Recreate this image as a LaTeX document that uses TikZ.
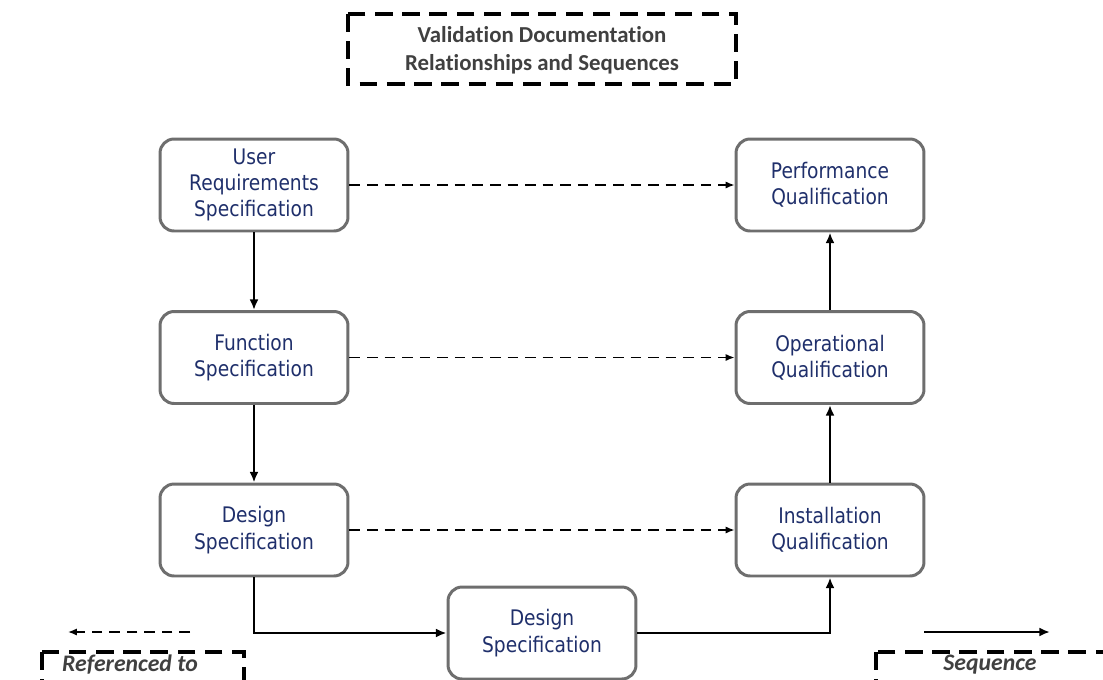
\documentclass[tikz,border=0pt]{standalone}
\usepackage{fontspec}
\setmainfont[Ligatures={NoCommon}]{Carlito}
\newfontfamily\boxfont[FakeStretch=0.87]{DejaVu Sans}
\usetikzlibrary{arrows.meta}
\definecolor{boxtext}{HTML}{1F2F6B}
\definecolor{boxline}{HTML}{6E6E6E}
\definecolor{titletext}{HTML}{404040}
\begin{document}
\begin{tikzpicture}[x=0.02cm,y=-0.02cm,
  docbox/.style={draw=boxline, line width=1.7pt, rounded corners=8pt, fill=white,
    minimum width=3.76cm, minimum height=1.84cm, align=center,
    text=boxtext, font=\boxfont\fontsize{12.2}{15}\selectfont},
  dashbox/.style={draw=black, line width=1.8pt, dash pattern=on 10pt off 5.5pt},
  seq/.style={draw=black, line width=1.2pt, -{Latex[length=6pt,width=5pt]}},
  ref/.style={draw=black, line width=0.8pt, dash pattern=on 6pt off 4pt, -{Latex[length=5pt,width=4pt]}},
  legtext/.style={font=\bfseries\itshape\fontsize{13.5}{15}\selectfont, text=titletext}]
\useasboundingbox (0,0) rectangle (1103,680);

% title
\draw[dashbox] (348,14) rectangle (736,84);
\node[font=\bfseries\fontsize{13}{16}\selectfont, text=titletext, align=center]
  (title) at (542,50) {Validation Documentation\\[0pt]Relationships and Sequences};

% specification side
\node[docbox] (urs) at (254,185) {User\\Requirements\\Specification};
\node[docbox] (fs)  at (254,357.5) {Function\\Specification};
\node[docbox] (ds)  at (254,530) {Design\\Specification};

% qualification side
\node[docbox] (pq) at (830,185) {Performance\\Qualification};
\node[docbox] (oq) at (830,357.5) {Operational\\Qualification};
\node[docbox] (iq) at (830,530) {Installation\\Qualification};

% bottom box
\node[docbox] (ds2) at (542,633) {Design\\Specification};

% sequence
\draw[seq] (urs) -- (fs);
\draw[seq] (fs) -- (ds);
\draw[seq] (ds.south) |- (ds2.west);
\draw[seq] (ds2.east) -| (iq.south);
\draw[seq] (iq) -- (oq);
\draw[seq] (oq) -- (pq);

% references
\draw[ref] (urs) -- (pq);
\draw[ref] (fs) -- (oq);
\draw[ref] (ds) -- (iq);

% legend
\coordinate (rA) at (190,632);
\coordinate (rB) at (68,632);
\draw[ref] (rA) -- (rB);
\draw[dashbox] (42,652) rectangle (244,690);
\node[legtext] (reflbl) at (130,665) {Referenced to};

\coordinate (sA) at (924,632);
\coordinate (sB) at (1050,632);
\draw[seq] (sA) -- (sB);
\draw[dashbox] (876,652) rectangle (1120,690);
\node[legtext] (seqlbl) at (990,665) {Sequence};
\end{tikzpicture}
\end{document}
